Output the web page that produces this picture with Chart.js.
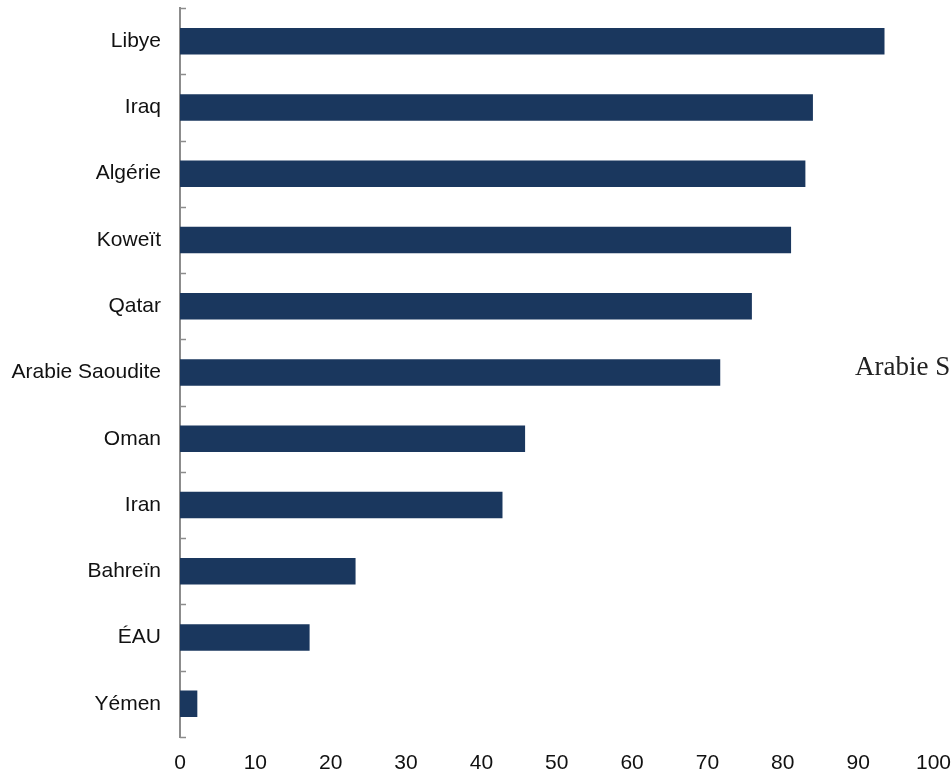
<!DOCTYPE html>
<html>
<head>
<meta charset="utf-8">
<script src="https://cdn.jsdelivr.net/npm/chart.js@4.4.0/dist/chart.umd.min.js"></script>
<style>
  html, body { margin: 0; padding: 0; background: #fff; overflow: hidden; width: 951px; height: 775px; }
  #wrap { position: relative; width: 965px; height: 775px; }
  #stray { position: absolute; left: 855px; top: 351px; font-family: "Liberation Serif", "DejaVu Serif", serif; font-size: 27px; color: #222; white-space: nowrap; }
</style>
</head>
<body>
<div id="wrap">
  <canvas id="chart" width="965" height="775"></canvas>
  <div id="stray">Arabie Saoudite</div>
</div>
<script>
const countries = ['Libye', 'Iraq', 'Algérie', 'Koweït', 'Qatar', 'Arabie Saoudite', 'Oman', 'Iran', 'Bahreïn', 'ÉAU', 'Yémen'];
const values = [93.5, 84.0, 83.0, 81.1, 75.9, 71.7, 45.8, 42.8, 23.3, 17.2, 2.3];
const xTicks = [0, 10, 20, 30, 40, 50, 60, 70, 80, 90, 100];

// small inward tick marks on the category axis, at the boundaries between bars
const innerTicks = {
    id: 'innerTicks',
    afterDraw(chart) {
        const y = chart.scales.y;
        const ctx = chart.ctx;
        const step = y.getPixelForValue(1) - y.getPixelForValue(0);
        ctx.save();
        ctx.strokeStyle = '#8c8c8c';
        ctx.lineWidth = 1.5;
        for (let i = 0; i <= countries.length; i++) {
            const py = Math.round(y.getPixelForValue(i) - step / 2) + 0.5;
            ctx.beginPath();
            ctx.moveTo(y.right, py);
            ctx.lineTo(y.right + 6, py);
            ctx.stroke();
        }
        ctx.restore();
    }
};

new Chart(document.getElementById('chart'), {
    type: 'bar',
    data: {
        labels: countries,
        datasets: [{
            data: values,
            backgroundColor: '#1a375e',
            borderWidth: 0,
            barPercentage: 0.4,
            categoryPercentage: 1
        }]
    },
    options: {
        indexAxis: 'y',
        responsive: false,
        animation: false,
        layout: { padding: { top: 8, right: 30, left: 0, bottom: 0 } },
        plugins: { legend: { display: false }, tooltip: { enabled: false } },
        scales: {
            x: {
                min: 0,
                max: 100,
                afterBuildTicks: s => { s.ticks = xTicks.map(v => ({ value: v })); },
                afterFit: s => { s.height = 38; },
                grid: { display: false, drawTicks: false },
                border: { display: false },
                ticks: {
                    color: '#111',
                    padding: 14,
                    maxRotation: 0,
                    font: { family: 'Liberation Sans, Arial, sans-serif', size: 21 }
                }
            },
            y: {
                afterFit: s => { s.width = 180; s.paddingTop = 0; s.paddingBottom = 0; },
                grid: { display: false, drawTicks: false },
                border: { display: true, color: '#8c8c8c', width: 2 },
                ticks: {
                    color: '#111',
                    padding: 19,
                    font: { family: 'Liberation Sans, Arial, sans-serif', size: 21 }
                }
            }
        }
    },
    plugins: [innerTicks]
});
</script>
</body>
</html>
